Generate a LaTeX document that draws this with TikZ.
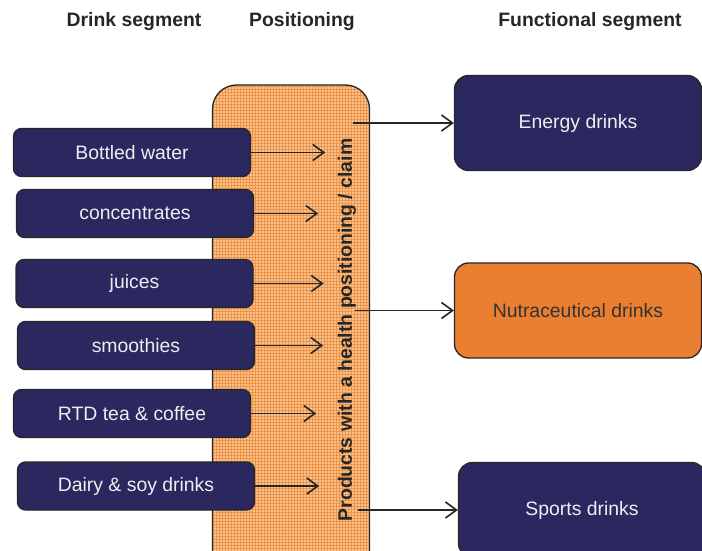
\documentclass[tikz,border=0pt]{standalone}
\usepackage{fontspec}
\setmainfont{Liberation Sans}
\usetikzlibrary{arrows.meta,patterns}

\definecolor{navy}{HTML}{2A285E}
\definecolor{nutra}{HTML}{EA7F31}
\definecolor{posfill}{HTML}{F8C291}
\definecolor{posgrid}{HTML}{EE9446}

\begin{document}
\begin{tikzpicture}[
        x=1pt, y=-1pt,
        header/.style={
            font=\fontsize{19.4}{23}\selectfont\bfseries,
            text=black!85
        },
        segment/.style={
            rectangle,
            draw=black!85,
            line width=1.3pt,
            rounded corners=8pt,
            fill=navy,
            text=white!92!navy,
            minimum width=237pt,
            minimum height=48pt,
            font=\fontsize{19.4}{23}\selectfont
        },
        functional/.style={
            segment,
            rounded corners=14pt,
            minimum width=247pt,
            minimum height=95pt
        },
        arrow/.style={-{Straight Barb[length=11pt,width=16pt]}, line width=1.6pt, black!85}
    ]

        \clip (0,0) rectangle (702,551);

        % column headers
        \node[header] (hdrink) at (134,22) {Drink segment};
        \node[header] (hpos) at (302,22) {Positioning};
        \node[header] (hfunc) at (590,22) {Functional segment};

        % positioning band
        \node[
            draw=black!85,
            line width=1.3pt,
            rounded corners=24pt,
            preaction={fill=posfill},
            pattern=grid,
            pattern color=posgrid,
            minimum width=157pt,
            minimum height=520pt
        ] (pos) at (291,345) {};
        \node[rotate=90, font=\fontsize{19.4}{23}\selectfont\bfseries, text=black!85] (claim) at (347,330)
            {Products with a health positioning / claim};

        % drink segments
        \node[segment] (water) at (132,152.5) {Bottled water};
        \node[segment] (conc) at (135,213.5) {concentrates};
        \node[segment] (juices) at (134.5,283.5) {juices};
        \node[segment] (smooth) at (136,345.5) {smoothies};
        \node[segment] (rtd) at (132,413.5) {RTD tea \& coffee};
        \node[segment] (dairy) at (136,486) {Dairy \& soy drinks};

        % functional segments
        \node[functional] (energy) at (578,123) {Energy drinks};
        \node[functional, fill=nutra, text=black!80] (nutraceut) at (578,310.5) {Nutraceutical drinks};
        \node[functional] (sports) at (582,510) {Sports drinks};

        \draw[arrow] (water.east) -- ++(74,0);
        \draw[arrow] (conc.east) -- ++(64,0);
        \draw[arrow] (juices.east) -- ++(70,0);
        \draw[arrow] (smooth.east) -- ++(68,0);
        \draw[arrow] (rtd.east) -- ++(65,0);
        \draw[arrow] (dairy.east) -- ++(64,0);

        \draw[arrow] ([xshift=-17pt]pos.east |- energy.west) -- (energy.west);
        \draw[arrow] ([xshift=-15pt]pos.east |- nutraceut.west) -- (nutraceut.west);
        \draw[arrow] ([xshift=-12pt]pos.east |- sports.west) -- (sports.west);

    \end{tikzpicture}
\end{document}
